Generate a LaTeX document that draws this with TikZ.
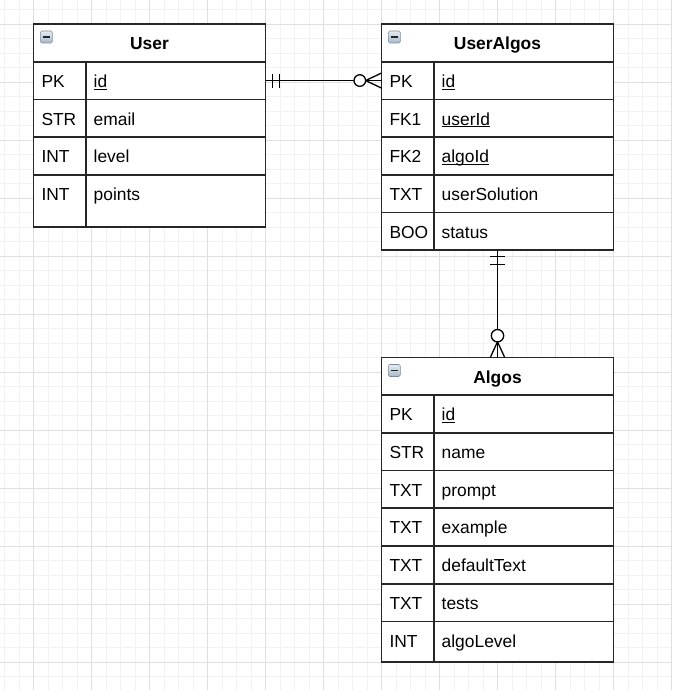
\documentclass[tikz,border=0pt]{standalone}
\usepackage{fontspec}
\setmainfont{Liberation Sans}
\usetikzlibrary{positioning,calc}

\definecolor{gridminor}{HTML}{F2F2F2}
\definecolor{gridmajor}{HTML}{E0E0E0}
\definecolor{tblline}{HTML}{262626}
\definecolor{btnedge}{HTML}{7D8B99}
\definecolor{btntop}{HTML}{E4ECF3}
\definecolor{btnbot}{HTML}{A8B8C8}

\newcommand{\keyname}[1]{\setbox0\hbox{#1}\rlap{\rule[-2.2pt]{\wd0}{0.9pt}}\box0}
\newcommand{\minusbar}{\textcolor{tblline}{\rule{7pt}{1.6pt}}}

\tikzset{
  tblhead/.style={draw=tblline, line width=1.7pt, fill=white, outer sep=0pt, inner sep=0pt, anchor=north west,
    minimum width=232pt, minimum height=37.7pt, text height=17.6pt, text depth=4pt,
    font=\fontsize{17.4pt}{20pt}\selectfont\bfseries},
  tblcell/.style={draw=tblline, line width=1.7pt, fill=white, outer sep=0pt, inner xsep=8pt, inner ysep=0pt,
    minimum height=37.7pt, text height=17.6pt, text depth=4pt, align=left,
    font=\fontsize{17.4pt}{20pt}\selectfont},
  keycell/.style={tblcell, text width=36.2pt},
  namecell/.style={tblcell, text width=163.8pt},
  minbtn/.style={draw=btnedge, line width=0.6pt, rounded corners=1.5pt, top color=btntop, bottom color=btnbot,
    minimum size=12pt, inner sep=0pt, anchor=north west},
  link/.style={draw=black, line width=1.3pt},
}

\begin{document}
\begin{tikzpicture}[x=1pt, y=-1pt]
 \useasboundingbox (0,0) rectangle (672,690);
 % grid
 \begin{scope}[shift={(33.5,24)}]
  \draw[gridminor, line width=0.8pt, step=14.5pt] (-33.5,666) grid (638.5,-24);
  \draw[gridmajor, line width=0.8pt, step=58pt] (-33.5,666) grid (638.5,-24);
 \end{scope}

 % User
 \node[tblhead] (user) at (33.5,24) {User};
 \node[minbtn] (user-btn) at ($(user.north west)+(6.5,6.7)$) {\minusbar};
 \node[keycell, anchor=north west] (user-k1) at (user.south west) {PK};
 \node[namecell, right=0pt of user-k1] (user-n1) {\keyname{id}};
 \node[keycell, below=0pt of user-k1] (user-k2) {STR};
 \node[namecell, right=0pt of user-k2] (user-n2) {email};
 \node[keycell, below=0pt of user-k2] (user-k3) {INT};
 \node[namecell, right=0pt of user-k3] (user-n3) {level};
 \node[keycell, below=0pt of user-k3, minimum height=52.2pt, text depth=18.5pt] (user-k4) {INT};
 \node[namecell, right=0pt of user-k4, minimum height=52.2pt, text depth=18.5pt] (user-n4) {points};

 % UserAlgos
 \node[tblhead] (ua) at (381.5,24) {UserAlgos};
 \node[minbtn] (ua-btn) at ($(ua.north west)+(6.5,6.7)$) {\minusbar};
 \node[keycell, anchor=north west] (ua-k1) at (ua.south west) {PK};
 \node[namecell, right=0pt of ua-k1] (ua-n1) {\keyname{id}};
 \node[keycell, below=0pt of ua-k1] (ua-k2) {FK1};
 \node[namecell, right=0pt of ua-k2] (ua-n2) {\keyname{userId}};
 \node[keycell, below=0pt of ua-k2] (ua-k3) {FK2};
 \node[namecell, right=0pt of ua-k3] (ua-n3) {\keyname{algoId}};
 \node[keycell, below=0pt of ua-k3] (ua-k4) {TXT};
 \node[namecell, right=0pt of ua-k4] (ua-n4) {userSolution};
 \node[keycell, below=0pt of ua-k4] (ua-k5) {BOO};
 \node[namecell, right=0pt of ua-k5] (ua-n5) {status};

 % Algos
 \node[tblhead] (algo) at (381.5,357.5) {Algos};
 \node[minbtn] (algo-btn) at ($(algo.north west)+(6.5,6.7)$) {\minusbar};
 \node[keycell, anchor=north west] (algo-k1) at (algo.south west) {PK};
 \node[namecell, right=0pt of algo-k1] (algo-n1) {\keyname{id}};
 \node[keycell, below=0pt of algo-k1] (algo-k2) {STR};
 \node[namecell, right=0pt of algo-k2] (algo-n2) {name};
 \node[keycell, below=0pt of algo-k2] (algo-k3) {TXT};
 \node[namecell, right=0pt of algo-k3] (algo-n3) {prompt};
 \node[keycell, below=0pt of algo-k3] (algo-k4) {TXT};
 \node[namecell, right=0pt of algo-k4] (algo-n4) {example};
 \node[keycell, below=0pt of algo-k4] (algo-k5) {TXT};
 \node[namecell, right=0pt of algo-k5] (algo-n5) {defaultText};
 \node[keycell, below=0pt of algo-k5] (algo-k6) {TXT};
 \node[namecell, right=0pt of algo-k6] (algo-n6) {tests};
 \node[keycell, below=0pt of algo-k6, minimum height=40.6pt, text depth=6.9pt] (algo-k7) {INT};
 \node[namecell, right=0pt of algo-k7, minimum height=40.6pt, text depth=6.9pt] (algo-n7) {algoLevel};

 % User -- UserAlgos : one to many
 \draw[link] (user-n1.east) -- (ua-k1.west);
 \draw[link] ($(user-n1.east)+(7.3,-7)$) -- ($(user-n1.east)+(7.3,7)$);
 \draw[link] ($(user-n1.east)+(14,-7)$) -- ($(user-n1.east)+(14,7)$);
 \draw[link] ($(ua-k1.west)+(-15.9,0)$) -- ($(ua-k1.west)+(0,-7.5)$);
 \draw[link] ($(ua-k1.west)+(-15.9,0)$) -- ($(ua-k1.west)+(0,7.5)$);
 \draw[link, fill=white] ($(ua-k1.west)+(-21.7,0)$) circle (5.8pt);

 % UserAlgos -- Algos : one to many
 \coordinate (ua-foot) at (ua.south |- ua-n5.south);
 \draw[link] (ua-foot) -- (algo.north);
 \draw[link] ($(ua-foot)+(-7.5,6.5)$) -- ($(ua-foot)+(7.5,6.5)$);
 \draw[link] ($(ua-foot)+(-7.5,14)$) -- ($(ua-foot)+(7.5,14)$);
 \draw[link] ($(algo.north)+(0,-15.8)$) -- ($(algo.north)+(-7.2,0)$);
 \draw[link] ($(algo.north)+(0,-15.8)$) -- ($(algo.north)+(7.2,0)$);
 \draw[link, fill=white] ($(algo.north)+(0,-21.8)$) circle (6.2pt);
\end{tikzpicture}
\end{document}
